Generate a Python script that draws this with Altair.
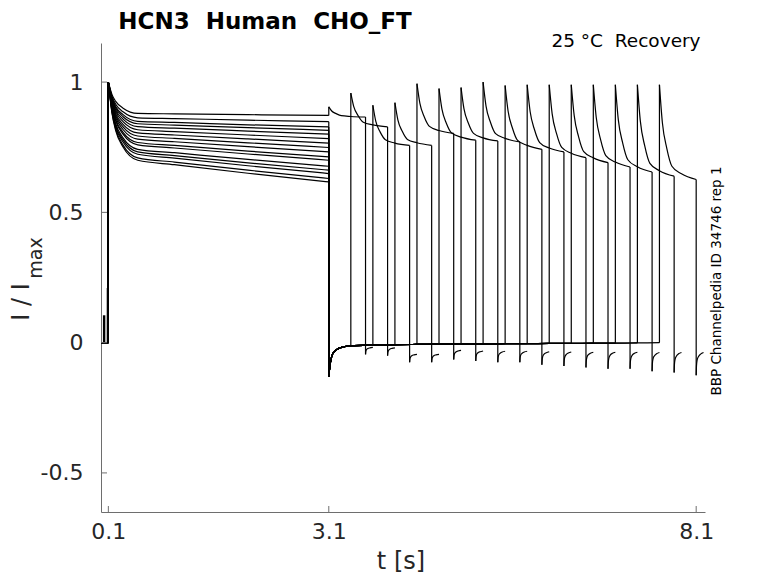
import altair as alt
import pandas as pd

FONT = "DejaVu Sans"
AX_COL = "#6e6e6e"
TXT_COL = "#262626"
NB = "\u00a0"

# ---------------- data ----------------
# start time of the test pulse of each sweep (s), pulse length 0.5 s
pulse_start = [3.1, 3.4, 3.7, 4.0, 4.3, 4.6, 4.9, 5.2, 5.5, 5.8, 6.1, 6.4, 6.7, 7.0, 7.3, 7.6]
pulse_len = 0.5

# conditioning pulse (0.1 .. 3.1 s)
act_t = [0.1, 0.15, 0.2, 0.3, 0.5, 1.0, 2.0, 3.1]
act_v = [
    [1.0, .952, .926, .900, .880, .878, .875, .872],
    [1.0, .945, .915, .886, .863, .860, .854, .848],
    [1.0, .922, .879, .838, .805, .797, .782, .766],
    [1.0, .917, .872, .828, .793, .784, .767, .749],
    [1.0, .940, .906, .875, .849, .845, .836, .828],
    [1.0, .936, .901, .867, .840, .835, .825, .815],
    [1.0, .932, .894, .858, .829, .823, .812, .800],
    [1.0, .927, .887, .848, .817, .810, .797, .783],
    [1.0, .912, .864, .818, .781, .771, .752, .732],
    [1.0, .907, .856, .807, .768, .757, .735, .713],
    [1.0, .904, .851, .800, .759, .747, .724, .700],
    [1.0, .897, .840, .786, .742, .729, .703, .677],
    [1.0, .893, .834, .778, .732, .718, .690, .662],
    [1.0, .889, .828, .770, .723, .708, .679, .649],
    [1.0, .884, .820, .758, .709, .693, .662, .630],
    [1.0, .880, .814, .751, .700, .683, .650, .617],
]

# recovery interval at holding potential
base_t = [3.1, 3.12, 3.15, 3.2, 3.3, 3.4, 3.7, 4.0, 4.3, 4.6, 4.9, 5.2, 5.5,
          5.8, 6.1, 6.4, 6.7, 7.0, 7.3, 7.6]
base_v = [-0.13, -0.08, -0.045, -0.028, -0.016, -0.012, -0.009, -0.008, -0.007,
          -0.006, -0.005, -0.005, -0.004, -0.004, -0.003, -0.003, -0.002,
          -0.002, -0.001, 0.0]

# test pulse (time after its start)
pulse_off = [0.0, 0.04, 0.1, 0.17, 0.3, 0.5]
pulse_v = [
    [.905, .889, .879, .871, .868, .866],
    [.958, .906, .871, .846, .836, .828],
    [.911, .849, .808, .779, .766, .757],
    [.921, .855, .811, .780, .767, .757],
    [.994, .918, .866, .830, .814, .803],
    [.975, .896, .842, .805, .789, .777],
    [.979, .897, .842, .803, .786, .774],
    [1.0, .908, .846, .802, .784, .770],
    [.987, .889, .823, .776, .757, .742],
    [.990, .887, .817, .768, .747, .732],
    [.990, .878, .802, .749, .727, .710],
    [.990, .871, .790, .733, .709, .691],
    [.990, .864, .778, .718, .693, .674],
    [.990, .856, .766, .702, .675, .655],
    [.990, .850, .755, .688, .660, .639],
    [.990, .844, .746, .677, .648, .626],
]

# tail after the test pulse (time after its end)
tail_off = [0.0, 0.004, 0.012, 0.03, 0.06, 0.1]
tail_v = [
    [-.045, -.034, -.027, -.023, -.020, -.018],
    [-.050, -.038, -.031, -.025, -.022, -.020],
    [-.075, -.063, -.056, -.050, -.047, -.045],
    [-.075, -.063, -.056, -.050, -.047, -.045],
    [-.065, -.051, -.042, -.036, -.032, -.030],
    [-.070, -.055, -.045, -.039, -.035, -.032],
    [-.075, -.058, -.048, -.041, -.036, -.033],
    [-.075, -.058, -.048, -.041, -.036, -.033],
    [-.085, -.065, -.053, -.044, -.039, -.035],
    [-.090, -.068, -.055, -.046, -.040, -.036],
    [-.095, -.072, -.057, -.047, -.041, -.037],
    [-.100, -.075, -.059, -.048, -.041, -.037],
    [-.100, -.075, -.059, -.048, -.041, -.037],
    [-.110, -.081, -.063, -.051, -.043, -.038],
    [-.115, -.084, -.065, -.052, -.043, -.038],
    [-.125, -.090, -.068, -.054, -.044, -.038],
]

# small artefact before the conditioning step
spike_t = [0.026, 0.059]
spike_v = 0.105
spike2_t = 0.086
spike2_v = 0.21
step_t = 0.1

x_ticks = [0.1, 3.1, 8.1]
y_ticks = [-0.5, 0, 0.5, 1]

# ---------------- build tables ----------------
rows = []
jumps = []
for k, ts in enumerate(pulse_start):
    rows += [dict(seg=f"{k}pre", t=0.0, v=0.0), dict(seg=f"{k}pre", t=step_t, v=0.0)]
    jumps.append(dict(t=step_t, y1=0.0, y2=act_v[k][0]))
    for t, v in zip(act_t, act_v[k]):
        rows.append(dict(seg=f"{k}act", t=t, v=v))
    if k == 0:
        jumps.append(dict(t=ts, y1=act_v[k][-1], y2=pulse_v[k][0]))
    else:
        jumps.append(dict(t=3.1, y1=act_v[k][-1], y2=base_v[0]))
        for t, v in zip(base_t, base_v):
            if t <= ts + 1e-9:
                rows.append(dict(seg=f"{k}base", t=t, v=v))
        bv = base_v[[round(b, 3) for b in base_t].index(round(ts, 3))]
        jumps.append(dict(t=ts, y1=bv, y2=pulse_v[k][0]))
    for o, v in zip(pulse_off, pulse_v[k]):
        rows.append(dict(seg=f"{k}pulse", t=ts + o, v=v))
    te = ts + pulse_len
    jumps.append(dict(t=te, y1=pulse_v[k][-1], y2=tail_v[k][0]))
    for o, v in zip(tail_off, tail_v[k]):
        rows.append(dict(seg=f"{k}tail", t=te + o, v=v))

df = pd.DataFrame(rows)
jdf = pd.DataFrame(jumps)

W, H = 604, 469
LW = 1.2

xscale = alt.Scale(domain=[0, 8.22], nice=False, zero=False)
yscale = alt.Scale(domain=[-0.65, 1.15], nice=False, zero=False)
xaxis = alt.Axis(values=x_ticks, ticks=False, grid=False, domainColor=AX_COL, domainWidth=1,
                 labelFont=FONT, labelFontSize=22, labelColor=TXT_COL, labelPadding=9,
                 labelFlush=False, title=None, labelExpr="format(datum.value, '.1f')")
yaxis = alt.Axis(values=y_ticks, ticks=False, grid=False, domainColor=AX_COL, domainWidth=1,
                 labelFont=FONT, labelFontSize=22, labelColor=TXT_COL, labelPadding=18,
                 title=None,
                 labelExpr="datum.value == -0.5 ? '-0.5' : format(datum.value, '~g')")

X = alt.X("t:Q", scale=xscale, axis=xaxis)
Y = alt.Y("v:Q", scale=yscale, axis=yaxis)

lines = alt.Chart(df).mark_line(interpolate="monotone", color="black", strokeWidth=LW).encode(
    x=X, y=Y, detail="seg:N")

steps = alt.Chart(jdf).mark_rule(color="black", strokeWidth=LW).encode(
    x=alt.X("t:Q", scale=xscale, axis=xaxis), y=alt.Y("y1:Q", scale=yscale, axis=yaxis), y2="y2:Q")

spike = alt.Chart(pd.DataFrame({"t": [spike_t[0]], "t2": [spike_t[1]], "v": [0.0], "v2": [spike_v]})).mark_rect(
    color="black").encode(x=alt.X("t:Q", scale=xscale, axis=xaxis), x2="t2:Q",
                          y=alt.Y("v:Q", scale=yscale, axis=yaxis), y2="v2:Q")
spike2 = alt.Chart(pd.DataFrame({"t": [spike2_t], "v": [0.0], "v2": [spike2_v]})).mark_rule(
    color="black", strokeWidth=LW).encode(x=alt.X("t:Q", scale=xscale, axis=xaxis),
                                         y=alt.Y("v:Q", scale=yscale, axis=yaxis), y2="v2:Q")

ytick_marks = alt.Chart(pd.DataFrame({"v": y_ticks})).mark_rule(color=AX_COL, strokeWidth=1).encode(
    y=alt.Y("v:Q", scale=yscale, axis=yaxis), x=alt.value(0), x2=alt.value(6))
xtick_marks = alt.Chart(pd.DataFrame({"t": x_ticks})).mark_rule(color=AX_COL, strokeWidth=1).encode(
    x=alt.X("t:Q", scale=xscale, axis=xaxis), y=alt.value(H), y2=alt.value(H - 6))


def label(txt, x, y, size, angle=0, weight="normal", align="center", baseline="alphabetic", color=TXT_COL):
    return alt.Chart(pd.DataFrame({"txt": [txt]})).mark_text(
        font=FONT, fontSize=size, fontWeight=weight, angle=angle, align=align,
        baseline=baseline, color=color).encode(x=alt.value(x), y=alt.value(y), text="txt:N")


title = label(f"HCN3{NB}{NB}Human{NB}{NB}CHO_FT", 164, -14, 23, weight="bold", color="black")
cond = label(f"25{NB}°C{NB}{NB}Recovery", 525, 4, 18.5, color="black")
side = label("BBP Channelpedia ID 34746 rep 1", 620, 238, 13.5, angle=270, color="black")
xtitle = label("t [s]", 300, 526, 24)
ylab1 = label("I / I", -72, 259, 24, angle=270)
ylab2 = label("max", -59, 215, 19, angle=270)

chart = alt.layer(lines, steps, spike, spike2, ytick_marks, xtick_marks,
                  title, cond, side, xtitle, ylab1, ylab2).properties(
    width=W, height=H,
    padding={"left": 93, "top": 35, "right": 60, "bottom": 63},
    autosize=alt.AutoSizeParams(type="none"),
).configure_view(stroke=None)

chart.save("out.html", embed_options={"renderer": "svg", "actions": False})
